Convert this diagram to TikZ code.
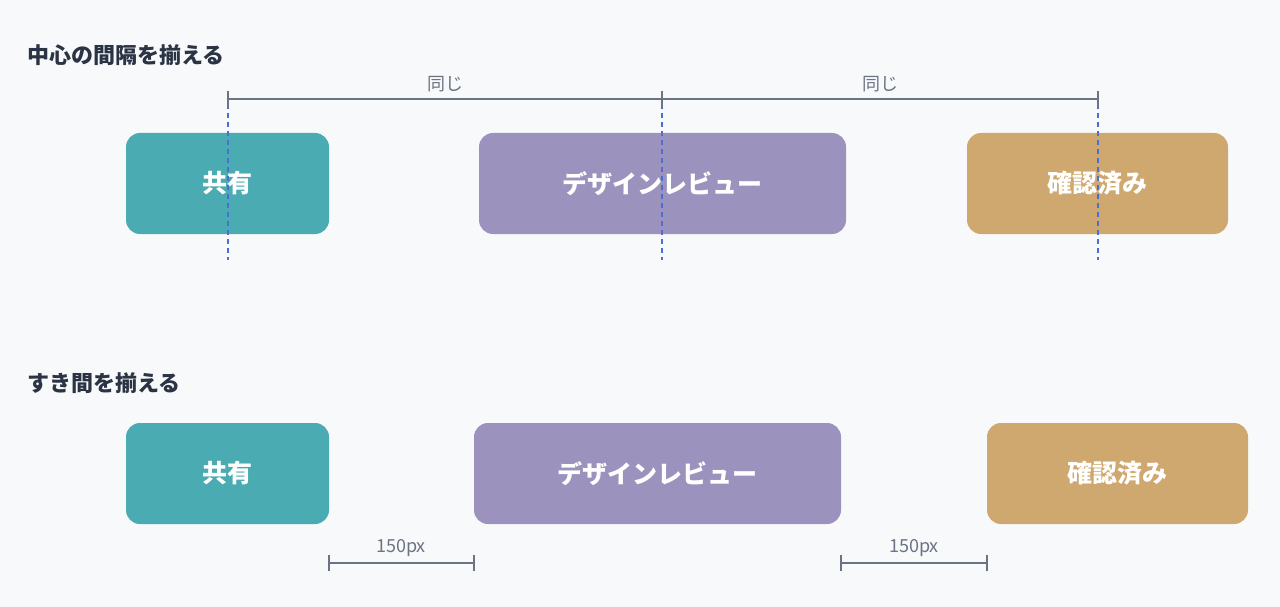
\documentclass[tikz,border=0pt]{standalone}
\usepackage{fontspec}
\setmainfont{Noto Sans CJK JP}
\begin{document}
\begin{tikzpicture}[x=1pt,y=-1pt,
  box/.style={rounded corners=14pt,minimum height=101pt,inner sep=0pt,text=white,font=\bfseries\fontsize{25}{25}\selectfont},
  ttl/.style={anchor=west,text=title,font=\bfseries\fontsize{22}{22}\selectfont},
  dim/.style={draw=dimc,line width=1.3pt},
  lab/.style={text=dimc,font=\fontsize{18}{18}\selectfont},
  guide/.style={draw=guidec,dashed,line width=1.2pt,dash pattern=on 5pt off 4pt}]
\definecolor{bg}{HTML}{F8F9FA}
\definecolor{title}{HTML}{2B3445}
\definecolor{dimc}{HTML}{6B7385}
\definecolor{guidec}{HTML}{4A6FD0}
\definecolor{teal}{HTML}{4AABB2}
\definecolor{purp}{HTML}{9B93BD}
\definecolor{tan}{HTML}{CFA86F}
\fill[bg] (0,0) rectangle (1280,607);
\useasboundingbox (0,0) rectangle (1280,607);
\node[ttl] (t1) at (24,55) {中心の間隔を揃える};
\node[ttl] (t2) at (24,383) {すき間を揃える};
% top row
\node[box,fill=teal,minimum width=203pt] (a1) at (227.5,183.5) {共有};
\node[box,fill=purp,minimum width=367pt] (b1) at (662.5,183.5) {デザインレビュー};
\node[box,fill=tan,minimum width=261pt] (c1) at (1097.5,183.5) {確認済み};
\coordinate (ga1) at (228,95); \coordinate (ga2) at (228,260);
\coordinate (gb1) at (662,95); \coordinate (gb2) at (662,260);
\coordinate (gc1) at (1098,95); \coordinate (gc2) at (1098,260);
\draw[guide] (ga1) -- (ga2);
\draw[guide] (gb1) -- (gb2);
\draw[guide] (gc1) -- (gc2);
\coordinate (d1) at (228,99); \coordinate (d2) at (662,99); \coordinate (d3) at (1098,99);
\draw[dim] (d1) -- (d3);
\foreach \p in {d1,d2,d3} \draw[dim] ([yshift=-8pt]\p) -- ([yshift=8pt]\p);
\node[lab] (l1) at (445,84) {同じ};
\node[lab] (l2) at (880,84) {同じ};
% bottom row
\node[box,fill=teal,minimum width=203pt] (a2) at (227.5,473.5) {共有};
\node[box,fill=purp,minimum width=367pt] (b2) at (657.5,473.5) {デザインレビュー};
\node[box,fill=tan,minimum width=261pt] (c2) at (1117.5,473.5) {確認済み};
\coordinate (e1) at (329,563); \coordinate (e2) at (474,563);
\coordinate (e3) at (841,563); \coordinate (e4) at (987,563);
\draw[dim] (e1) -- (e2);
\draw[dim] (e3) -- (e4);
\foreach \p in {e1,e2,e3,e4} \draw[dim] ([yshift=-8pt]\p) -- ([yshift=8pt]\p);
\node[lab] (l3) at (401,548) {150px};
\node[lab] (l4) at (914,548) {150px};
\end{tikzpicture}
\end{document}
